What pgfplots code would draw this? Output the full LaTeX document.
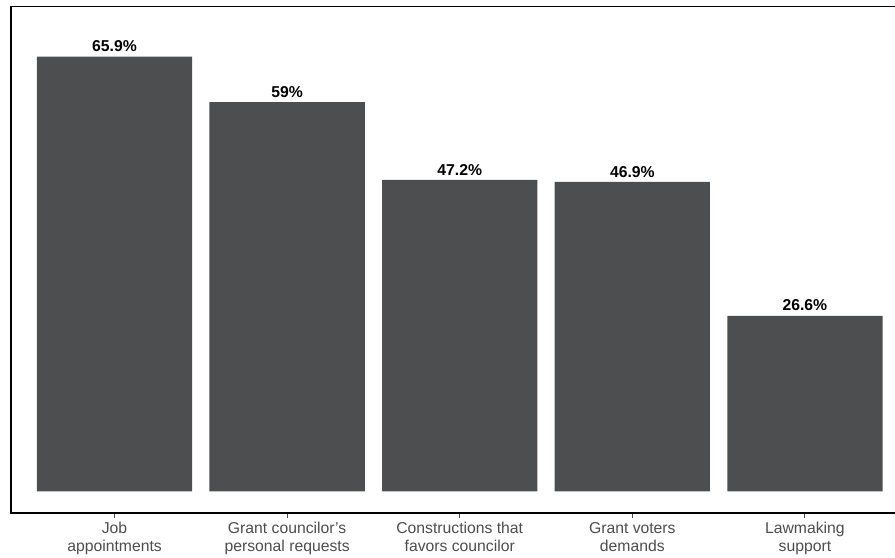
\documentclass[border=0pt]{standalone}
\usepackage{pgfplots}
\pgfplotsset{compat=1.18}
\usepackage{fontspec}
\setmainfont{Liberation Sans}
\definecolor{barc}{RGB}{77,78,80}
\definecolor{tickc}{RGB}{77,77,77}
\begin{document}
\begin{tikzpicture}
\path[use as bounding box] (-8.25pt,-33pt) rectangle (663pt,384.8pt);
\clip (-8.25pt,-33pt) rectangle (663pt,384.8pt);
\begin{axis}[
  scale only axis, width=673.1pt, height=379.9pt,
  xmin=0.4, xmax=5.6, ymin=-3.3, ymax=73.5,
  axis line style={black, line width=1.2pt},
  ytick=\empty,
  xtick={1,2,3,4,5},
  xticklabels={{Job\\appointments},{Grant councilor's\\personal requests},{Constructions that\\favors councilor},{Grant voters\\demands},{Lawmaking\\support}},
  xticklabel style={align=center, font=\fontsize{11.8}{13.5}\selectfont, text=tickc},
  major tick length=3.5pt, tick align=outside, xtick pos=bottom,
  x tick style={tickc, line width=0.8pt},
  /pgf/number format/assume math mode=true,
  ybar, bar width=0.9,
  nodes near coords={\pgfmathprintnumber{\pgfplotspointmeta}\%},
  nodes near coords style={font=\bfseries\fontsize{11.8}{13}\selectfont, anchor=south, text=black},
]
\addplot[fill=barc, draw=none] coordinates {(1,65.9) (2,59) (3,47.2) (4,46.9) (5,26.6)};
\end{axis}
\end{tikzpicture}
\end{document}
